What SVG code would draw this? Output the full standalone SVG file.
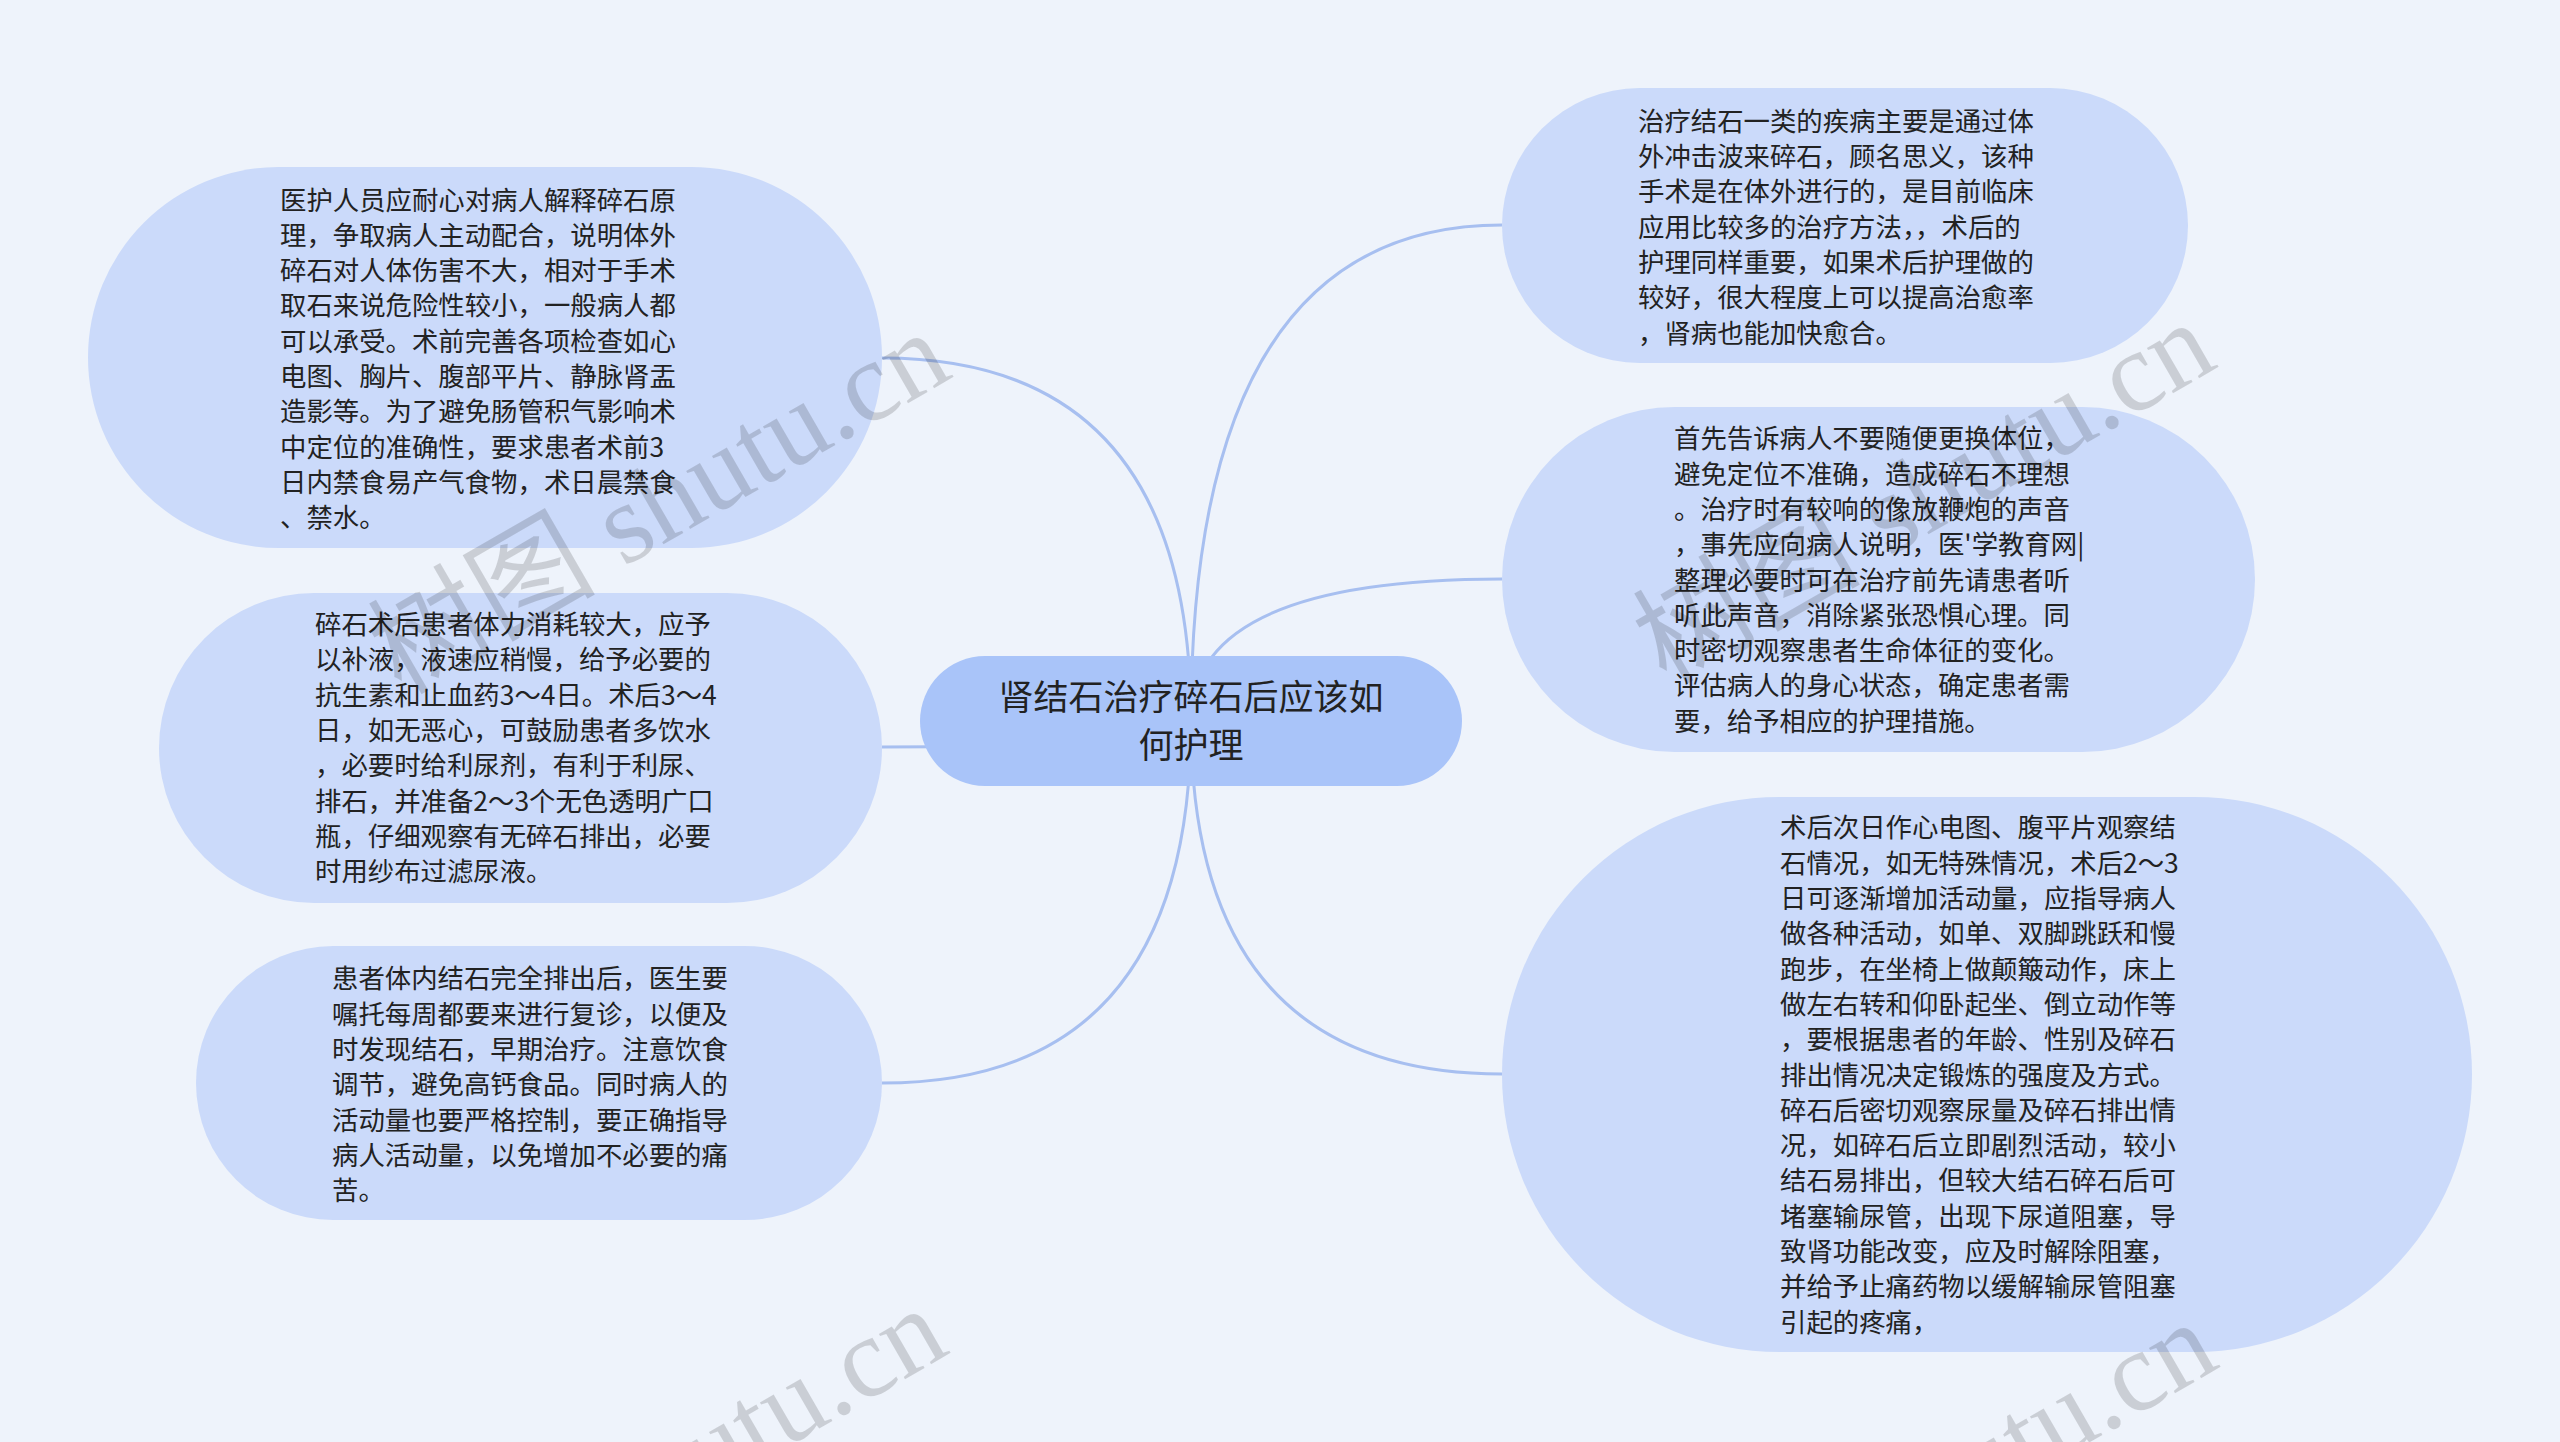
<svg xmlns="http://www.w3.org/2000/svg" width="2560" height="1442" viewBox="0 0 2560 1442">
<style>
.bg{fill:#eef3fb}
.leaf{fill:#cbdafa}
.root{fill:#a9c4f9}
.edge{fill:none;stroke:#a7bff0;stroke-width:3}
.t{font-family:"Noto Sans CJK SC","Noto Sans",sans-serif;font-size:26.4px;fill:#222}
.rt{font-family:"Noto Sans CJK SC","Noto Sans",sans-serif;font-size:35px;fill:#222;text-anchor:middle}
.wm{font-family:"Liberation Serif","Noto Sans CJK SC",serif;font-size:114px;fill:#000;fill-opacity:0.15;text-anchor:end}
</style>
<rect class="bg" x="0" y="0" width="2560" height="1442"/>
<g id="connectors">
<path class="edge" d="M1191,721 Q1191,358 882,358"/>
<path class="edge" d="M1191,721 Q1191,747 882,747"/>
<path class="edge" d="M1191,721 Q1191,1083 882,1083"/>
<path class="edge" d="M1191,721 Q1191,225 1502,225"/>
<path class="edge" d="M1191,721 Q1191,579 1502,579"/>
<path class="edge" d="M1191,721 Q1191,1074 1502,1074"/>
</g>
<g id="root">
<rect class="root" x="920" y="656" width="542" height="130" rx="65"/>
<text class="rt" x="1191" y="710">肾结石治疗碎石后应该如</text>
<text class="rt" x="1191" y="757.5">何护理</text>
</g>
<g id="n-tl">
<rect class="leaf" x="88" y="167" width="794" height="381" rx="190.5"/>
<text class="t"><tspan x="280" y="209.5">医护人员应耐心对病人解释碎石原</tspan><tspan x="280" dy="35.3">理，争取病人主动配合，说明体外</tspan><tspan x="280" dy="35.3">碎石对人体伤害不大，相对于手术</tspan><tspan x="280" dy="35.3">取石来说危险性较小，一般病人都</tspan><tspan x="280" dy="35.3">可以承受。术前完善各项检查如心</tspan><tspan x="280" dy="35.3">电图、胸片、腹部平片、静脉肾盂</tspan><tspan x="280" dy="35.3">造影等。为了避免肠管积气影响术</tspan><tspan x="280" dy="35.3">中定位的准确性，要求患者术前3</tspan><tspan x="280" dy="35.3">日内禁食易产气食物，术日晨禁食</tspan><tspan x="280" dy="35.3">、禁水。</tspan></text>
</g>
<g id="n-ml">
<rect class="leaf" x="159" y="593" width="723" height="310" rx="155"/>
<text class="t"><tspan x="315" y="634">碎石术后患者体力消耗较大，应予</tspan><tspan x="315" dy="35.3">以补液，液速应稍慢，给予必要的</tspan><tspan x="315" dy="35.3">抗生素和止血药3～4日。术后3～4</tspan><tspan x="315" dy="35.3">日，如无恶心，可鼓励患者多饮水</tspan><tspan x="315" dy="35.3">，必要时给利尿剂，有利于利尿、</tspan><tspan x="315" dy="35.3">排石，并准备2～3个无色透明广口</tspan><tspan x="315" dy="35.3">瓶，仔细观察有无碎石排出，必要</tspan><tspan x="315" dy="35.3">时用纱布过滤尿液。</tspan></text>
</g>
<g id="n-bl">
<rect class="leaf" x="196" y="946" width="686" height="274" rx="137"/>
<text class="t"><tspan x="332" y="988.3">患者体内结石完全排出后，医生要</tspan><tspan x="332" dy="35.3">嘱托每周都要来进行复诊，以便及</tspan><tspan x="332" dy="35.3">时发现结石，早期治疗。注意饮食</tspan><tspan x="332" dy="35.3">调节，避免高钙食品。同时病人的</tspan><tspan x="332" dy="35.3">活动量也要严格控制，要正确指导</tspan><tspan x="332" dy="35.3">病人活动量，以免增加不必要的痛</tspan><tspan x="332" dy="35.3">苦。</tspan></text>
</g>
<g id="n-tr">
<rect class="leaf" x="1502" y="88" width="686" height="275" rx="137.5"/>
<text class="t"><tspan x="1638" y="130.7">治疗结石一类的疾病主要是通过体</tspan><tspan x="1638" dy="35.3">外冲击波来碎石，顾名思义，该种</tspan><tspan x="1638" dy="35.3">手术是在体外进行的，是目前临床</tspan><tspan x="1638" dy="35.3">应用比较多的治疗方法，，术后的</tspan><tspan x="1638" dy="35.3">护理同样重要，如果术后护理做的</tspan><tspan x="1638" dy="35.3">较好，很大程度上可以提高治愈率</tspan><tspan x="1638" dy="35.3">，肾病也能加快愈合。</tspan></text>
</g>
<g id="n-mr">
<rect class="leaf" x="1502" y="407" width="753" height="345" rx="172.5"/>
<text class="t"><tspan x="1674" y="448.3">首先告诉病人不要随便更换体位，</tspan><tspan x="1674" dy="35.3">避免定位不准确，造成碎石不理想</tspan><tspan x="1674" dy="35.3">。治疗时有较响的像放鞭炮的声音</tspan><tspan x="1674" dy="35.3">，事先应向病人说明，医'学教育网|</tspan><tspan x="1674" dy="35.3">整理必要时可在治疗前先请患者听</tspan><tspan x="1674" dy="35.3">听此声音，消除紧张恐惧心理。同</tspan><tspan x="1674" dy="35.3">时密切观察患者生命体征的变化。</tspan><tspan x="1674" dy="35.3">评估病人的身心状态，确定患者需</tspan><tspan x="1674" dy="35.3">要，给予相应的护理措施。</tspan></text>
</g>
<g id="n-br">
<rect class="leaf" x="1502" y="797" width="970" height="555" rx="277.5"/>
<text class="t"><tspan x="1780" y="837.4">术后次日作心电图、腹平片观察结</tspan><tspan x="1780" dy="35.3">石情况，如无特殊情况，术后2～3</tspan><tspan x="1780" dy="35.3">日可逐渐增加活动量，应指导病人</tspan><tspan x="1780" dy="35.3">做各种活动，如单、双脚跳跃和慢</tspan><tspan x="1780" dy="35.3">跑步，在坐椅上做颠簸动作，床上</tspan><tspan x="1780" dy="35.3">做左右转和仰卧起坐、倒立动作等</tspan><tspan x="1780" dy="35.3">，要根据患者的年龄、性别及碎石</tspan><tspan x="1780" dy="35.3">排出情况决定锻炼的强度及方式。</tspan><tspan x="1780" dy="35.3">碎石后密切观察尿量及碎石排出情</tspan><tspan x="1780" dy="35.3">况，如碎石后立即剧烈活动，较小</tspan><tspan x="1780" dy="35.3">结石易排出，但较大结石碎石后可</tspan><tspan x="1780" dy="35.3">堵塞输尿管，出现下尿道阻塞，导</tspan><tspan x="1780" dy="35.3">致肾功能改变，应及时解除阻塞，</tspan><tspan x="1780" dy="35.3">并给予止痛药物以缓解输尿管阻塞</tspan><tspan x="1780" dy="35.3">引起的疼痛，</tspan></text>
</g>
<g id="watermark">
<text class="wm" transform="translate(955,376) rotate(-30)">树图 shutu.cn</text>
<text class="wm" transform="translate(2220,366) rotate(-30)">树图 shutu.cn</text>
<text class="wm" transform="translate(952,1352) rotate(-30)">树图 shutu.cn</text>
<text class="wm" transform="translate(2222,1366) rotate(-30)">树图 shutu.cn</text>
</g>
</svg>
